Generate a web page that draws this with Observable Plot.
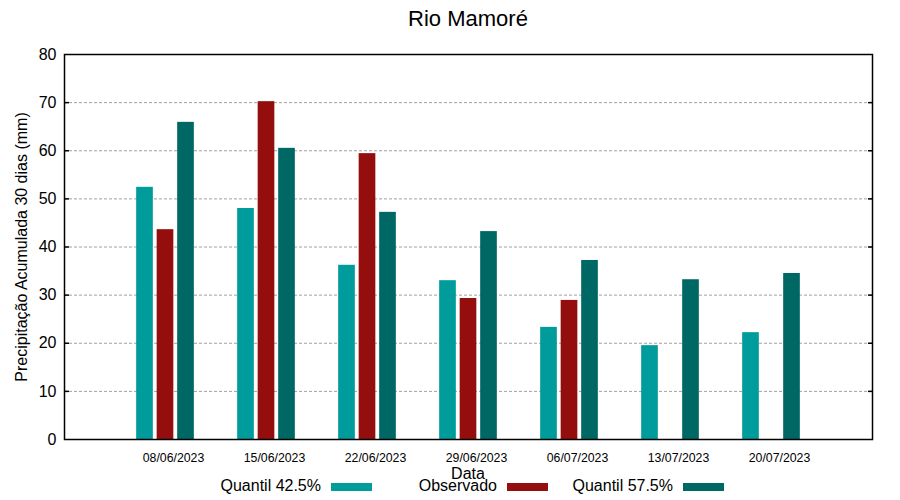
<!DOCTYPE html>
<html><head><meta charset="utf-8">
<script src="https://cdn.jsdelivr.net/npm/d3@7"></script>
<script src="https://cdn.jsdelivr.net/npm/@observablehq/plot@0.6"></script>
<style>
body{margin:0;background:#fff;font-family:"Liberation Sans",Arial,sans-serif;color:#000}
#wrap{position:relative;width:900px;height:500px;overflow:hidden}
#wrap svg{position:absolute;left:0;top:0}
.title{position:absolute;left:64px;width:808px;top:6px;line-height:26px;text-align:center;font-size:22px}
.xlab{position:absolute;left:64px;width:808px;top:465px;line-height:18px;text-align:center;font-size:16px}
.lt{position:absolute;top:477px;line-height:18px;font-size:16px;text-align:right;white-space:nowrap}
.sw{position:absolute;top:483px;height:8px;width:41px}
</style></head>
<body><div id="wrap"></div>
<script>
const dates = ["08/06/2023","15/06/2023","22/06/2023","29/06/2023","06/07/2023","13/07/2023","20/07/2023"];
const series = ["Quantil 42.5%","Observado","Quantil 57.5%"];
const q425 = [52.4,48.0,36.2,33.0,23.3,19.5,22.2];
const obs = [43.6,70.2,59.4,29.3,28.9,null,null];
const q575 = [65.9,60.5,47.2,43.2,37.2,33.2,34.5];
const colors = ["#009b9b","#940e0e","#006864"];
const yTicks = [0,10,20,30,40,50,60,70,80];
const gridTicks = [10,20,30,40,50,60,70];
const title = "Rio Mamoré";
const yLabel = "Precipitação Acumulada 30 dias (mm)";
const xLabel = "Data";

const offsets = [-0.203, 0, 0.203];
const barWidth = 0.165;
const values = [q425, obs, q575];
const rows = [];
series.forEach((s, k) => values[k].forEach((v, i) => {
  if (v != null) rows.push({i, series: s, value: v, k});
}));

const chart = Plot.plot({
  width: 900, height: 500,
  marginTop: 54, marginBottom: 61, marginLeft: 64, marginRight: 28,
  style: {fontFamily: "Liberation Sans, Arial, sans-serif", fontSize: "12px", background: "transparent", color: "#000", overflow: "visible"},
  x: {domain: [-1, 7], axis: null},
  y: {domain: [0, 80], axis: null},
  color: {domain: series, range: colors},
  marks: [
    Plot.gridY({ticks: gridTicks, stroke: "#a0a0a0", strokeOpacity: 1, strokeDasharray: "3,2", strokeWidth: 1}),
    Plot.rectY(rows, {x1: d => d.i + offsets[d.k] - barWidth / 2, x2: d => d.i + offsets[d.k] + barWidth / 2, y: "value", fill: "series"}),
    Plot.axisY({ticks: yTicks, tickSize: 0, tickPadding: 8, fontSize: 16, label: null}),
    Plot.axisY({anchor: "left", ticks: gridTicks, tickSize: -5, tickFormat: () => "", label: null, strokeWidth: 1.5}),
    Plot.axisY({anchor: "right", ticks: gridTicks, tickSize: -5, tickFormat: () => "", label: null, strokeWidth: 1.5}),
    Plot.axisX({ticks: [0,1,2,3,4,5,6], tickFormat: i => dates[i], tickSize: 0, tickPadding: 14, fontSize: 12.3, dx: 8, label: null}),
    Plot.text([yLabel], {text: d => d, frameAnchor: "left", textAnchor: "middle", rotate: -90, dx: -43, fontSize: 16, fill: "#000"}),
    Plot.frame({stroke: "#000", strokeWidth: 1.5})
  ]
});

const wrap = document.getElementById("wrap");
wrap.appendChild(chart);
const t = document.createElement("div"); t.className = "title"; t.textContent = title; wrap.appendChild(t);
const xl = document.createElement("div"); xl.className = "xlab"; xl.textContent = xLabel; wrap.appendChild(xl);
const legendTextRight = [321, 497, 673];
const legendSwatchLeft = [331, 507, 683];
series.forEach((s, k) => {
  const lt = document.createElement("div"); lt.className = "lt";
  lt.style.right = (900 - legendTextRight[k]) + "px"; lt.textContent = s; wrap.appendChild(lt);
  const sw = document.createElement("div"); sw.className = "sw";
  sw.style.left = legendSwatchLeft[k] + "px"; sw.style.background = colors[k]; wrap.appendChild(sw);
});
</script>
</body></html>
